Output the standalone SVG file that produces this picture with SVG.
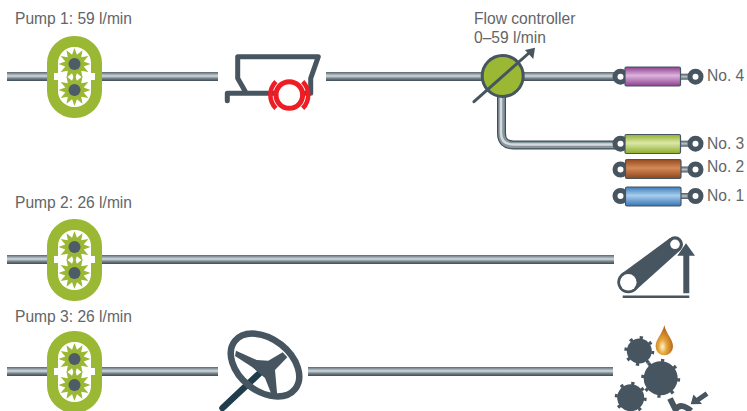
<svg xmlns="http://www.w3.org/2000/svg" xmlns:xlink="http://www.w3.org/1999/xlink" width="747" height="411" viewBox="0 0 747 411">
<style>
text{font-family:"Liberation Sans",Arial,sans-serif;font-size:15.6px;fill:#636567}
.pipe{fill:url(#pipeH)}
.ink{fill:#46555f}
.line{fill:none;stroke:#46555f;stroke-linejoin:round;stroke-linecap:round}
.body{stroke:#46555f;stroke-width:1.2}
.ring{fill:#fff;stroke:#46555f;stroke-width:5}
</style>
<defs>
<linearGradient id="pipeH" x1="0" y1="0" x2="0" y2="1"><stop offset="0" stop-color="#56666f"/><stop offset=".2" stop-color="#8d9aa2"/><stop offset=".45" stop-color="#d4dade"/><stop offset=".7" stop-color="#76858e"/><stop offset="1" stop-color="#3c4b55"/></linearGradient>
<linearGradient id="rod" x1="0" y1="0" x2="0" y2="1"><stop offset="0" stop-color="#46555f"/><stop offset=".5" stop-color="#b9c3c9"/><stop offset="1" stop-color="#46555f"/></linearGradient>
<linearGradient id="purple" x1="0" y1="0" x2="0" y2="1"><stop offset="0" stop-color="#8d3f8f"/><stop offset=".45" stop-color="#dcb4dc"/><stop offset="1" stop-color="#8d3f8f"/></linearGradient>
<linearGradient id="lime" x1="0" y1="0" x2="0" y2="1"><stop offset="0" stop-color="#93b030"/><stop offset=".45" stop-color="#dbe8a8"/><stop offset="1" stop-color="#8fac2c"/></linearGradient>
<linearGradient id="brown" x1="0" y1="0" x2="0" y2="1"><stop offset="0" stop-color="#934a1d"/><stop offset=".45" stop-color="#d58a58"/><stop offset="1" stop-color="#8e4518"/></linearGradient>
<linearGradient id="blue" x1="0" y1="0" x2="0" y2="1"><stop offset="0" stop-color="#3a7cbc"/><stop offset=".45" stop-color="#a9cdec"/><stop offset="1" stop-color="#3576b6"/></linearGradient>
<radialGradient id="drop" cx=".4" cy=".72" r=".6"><stop offset="0" stop-color="#fdf3cf"/><stop offset=".4" stop-color="#e5a63a"/><stop offset="1" stop-color="#b8661a"/></radialGradient>
<polygon id="tooth" points="16,0 9.18,2.46 13.86,8 6.72,6.72 8,13.86 2.46,9.18 0,16 -2.46,9.18 -8,13.86 -6.72,6.72 -13.86,8 -9.18,2.46 -16,0 -9.18,-2.46 -13.86,-8 -6.72,-6.72 -8,-13.86 -2.46,-9.18 0,-16 2.46,-9.18 8,-13.86 6.72,-6.72 13.86,-8 9.18,-2.46" fill="#9ab833"/>
<g id="pump">
<rect x="47" y="36" width="55" height="82" rx="27" fill="#9ab833"/>
<rect x="58" y="47" width="33" height="60" rx="16" fill="#fff"/>
<rect x="54" y="73" width="41" height="7" fill="#fff"/>
<use xlink:href="#tooth" x="74.500" y="64"/>
<use xlink:href="#tooth" x="74.500" y="90"/>
<circle cx="74.500" cy="64" r="6" fill="#4d5c66"/>
<circle cx="74.500" cy="90" r="6" fill="#4d5c66"/>
</g>
<g id="cyl">
<rect x="-6" y="-3" width="76" height="6" fill="url(#rod)"/>
<circle cx="-4.500" cy="0" r="5.500" class="ring"/>
<circle cx="70.500" cy="0" r="5.500" class="ring"/>
</g>
</defs>

<g id="connectors">
<rect class="pipe" x="7" y="72" width="47" height="9"/>
<rect class="pipe" x="96" y="72" width="122" height="9"/>
<rect class="pipe" x="326" y="72" width="160" height="9"/>
<rect class="pipe" x="520" y="72" width="100" height="9"/>
<path d="M501.500 96V133Q501.500 145 513.500 145H620" fill="none" stroke="#3f4e58" stroke-width="9"/>
<path d="M501.500 96V133Q501.500 145 513.500 145H620" fill="none" stroke="#87959d" stroke-width="6.500"/>
<path d="M501 96V133Q501 144.500 513.500 144.500H620" fill="none" stroke="#d4dade" stroke-width="2.500"/>
<rect class="pipe" x="7" y="255" width="47" height="9"/>
<rect class="pipe" x="96" y="255" width="518" height="9"/>
<rect class="pipe" x="7" y="367" width="47" height="9"/>
<rect class="pipe" x="96" y="367" width="122" height="9"/>
<rect class="pipe" x="308" y="367" width="305" height="9"/>
</g>

<g id="pump1"><use xlink:href="#pump"/><text x="15" y="24">Pump 1: 59 l/min</text></g>
<g id="pump2"><use xlink:href="#pump" y="183"/><text x="15" y="208">Pump 2: 26 l/min</text></g>
<g id="pump3"><use xlink:href="#pump" y="295"/><text x="15" y="322">Pump 3: 26 l/min</text></g>

<g id="brake-cart">
<path class="line" stroke-width="5" d="M246 92.700L237.700 78.300V56.700H318.300L310.700 78.300V93.300H227.300V100.700"/>
<circle cx="289.300" cy="95" r="13.300" fill="#fff" stroke="#ee1c25" stroke-width="5"/>
<path d="M275.900 81.600A19 19 0 0 0 275.900 108.400M302.700 81.600A19 19 0 0 1 302.700 108.400" fill="none" stroke="#ee1c25" stroke-width="4.500"/>
</g>

<g id="flow-controller">
<text x="474" y="24">Flow controller</text>
<text x="474" y="42.500">0–59 l/min</text>
<circle cx="502.700" cy="76" r="20.500" fill="#9ab833" stroke="#46555f" stroke-width="3"/>
<path class="line" stroke-width="3" d="M474 101.700L529 53"/>
<polygon class="ink" points="535,47.700 525,50 533.300,59"/>
</g>

<g id="cylinder4">
<use xlink:href="#cyl" x="625" y="76.700"/>
<rect class="body" x="625" y="67" width="55.500" height="19" rx="1.500" fill="url(#purple)"/>
<text x="707" y="81">No. 4</text>
</g>
<g id="cylinder3">
<use xlink:href="#cyl" x="625" y="143.700"/>
<rect class="body" x="625" y="134.500" width="55.500" height="19" rx="1.500" fill="url(#lime)"/>
<text x="707" y="148.500">No. 3</text>
</g>
<g id="cylinder2">
<use xlink:href="#cyl" x="625" y="169.500"/>
<rect class="body" x="625.500" y="159.500" width="55.500" height="19" rx="1.500" fill="url(#brown)"/>
<text x="707" y="172">No. 2</text>
</g>
<g id="cylinder1">
<use xlink:href="#cyl" x="625" y="196"/>
<rect class="body" x="625.500" y="187" width="55.500" height="19" rx="1.500" fill="url(#blue)"/>
<text x="707" y="201">No. 1</text>
</g>

<g id="conveyor">
<polygon class="ink" points="635.200,290.800 680,250.500 670,238.100 621.400,273.800"/>
<circle class="ink" cx="628.300" cy="282.300" r="11"/>
<circle class="ink" cx="675" cy="244.300" r="8"/>
<circle cx="628.300" cy="282.300" r="8.300" fill="#fff"/>
<circle cx="675" cy="244.300" r="4.800" fill="#fff"/>
<polygon class="ink" points="686,243.300 695,255.700 689.300,255.700 689.300,293.300 683.300,293.300 683.300,255.700 677.300,255.700"/>
<rect class="ink" x="622.700" y="295.500" width="66.600" height="2.500"/>
</g>

<g id="steering">
<path class="line" style="stroke:#1f3d4a" stroke-width="6.500" d="M263 370L222.500 408"/>
<ellipse cx="265" cy="365" rx="38.500" ry="26" transform="rotate(38.500 265 365)" fill="none" stroke="#46555f" stroke-width="6.500"/>
<polygon class="ink" points="236,350.700 256.700,360 268.300,360.700 282.700,352.300 287.300,357.300 275,370 277.300,396 271.700,395 265,378 251.700,366.700 235,356"/>
</g>

<g id="gears">
<g class="ink">
<circle cx="639.300" cy="351" r="12.500"/>
<circle cx="660.700" cy="378.300" r="17"/>
<circle cx="630.700" cy="397.700" r="13.500"/>
</g>
<g fill="none" stroke="#46555f" stroke-width="3">
<circle cx="639.300" cy="351" r="13.500" stroke-dasharray="3.300 7.300"/>
<circle cx="660.700" cy="378.300" r="18" stroke-dasharray="3.300 10.800"/>
<circle cx="630.700" cy="397.700" r="14.500" stroke-dasharray="3.300 8.100"/>
</g>
<path d="M664.300 325C666 334 673 339 673 346.500A8.700 8.700 0 0 1 655.600 346.500C655.600 339 662.600 334 664.300 325Z" fill="url(#drop)"/>
<path class="line" stroke-width="6" style="stroke-linecap:butt" d="M670 398.500L675.500 409.500Q681 402 691 411"/>
<path class="line" stroke-width="5" style="stroke-linecap:butt" d="M707 393.500L697 400.500"/>
<polygon class="ink" points="690.700,404.300 693.500,394.500 702,404"/>
</g>
</svg>
